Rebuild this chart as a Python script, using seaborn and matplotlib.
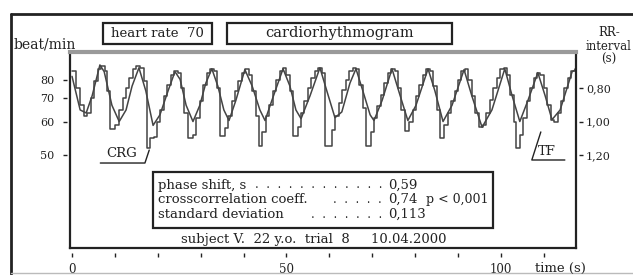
import matplotlib
matplotlib.use("Agg")
import matplotlib.pyplot as plt
from matplotlib.lines import Line2D
from matplotlib.patches import Rectangle
import seaborn as sns
import pandas as pd

# -----------------------------
# Data
# -----------------------------
# TF: fitted curve, time (s) and RR-interval (s)
tf_time = [0, 1.9, 3.3, 4.7, 6.5, 7.5, 9.3, 11.0, 12.6, 14.0,
           15.6, 17.2, 18.9, 20.5, 22.4, 24.0, 25.2, 26.6, 28.2, 29.8,
           31.2, 32.6, 34.0, 35.4, 36.6, 38.2, 40.3, 42.0, 43.8, 45.0,
           46.6, 49.2, 50.8, 52.2, 53.4, 55.5, 57.8, 59.4, 61.3, 62.9,
           64.8, 66.2, 67.8, 69.5, 70.4, 72.3, 74.6, 76.5, 78.3, 80.2,
           83.0, 84.6, 86.5, 88.6, 91.4, 93.2, 95.6, 97.9, 100.9, 102.6,
           104.4, 106.3, 108.6, 110.3, 111.9, 113.8, 115.2, 116.6, 117.5]
tf_rr = [0.731, 0.931, 0.949, 0.846, 0.663, 0.703, 0.903, 1.0, 0.931, 0.789,
         0.68, 0.817, 1.023, 0.96, 0.817, 0.703, 0.749, 0.903, 1.0, 0.903,
         0.771, 0.686, 0.789, 0.931, 0.994, 0.874, 0.691, 0.789, 0.931, 0.994,
         0.874, 0.686, 0.789, 0.931, 0.983, 0.846, 0.68, 0.817, 0.977, 0.943,
         0.771, 0.686, 0.817, 0.96, 0.994, 0.874, 0.686, 0.846, 0.994, 0.903,
         0.686, 0.817, 1.0, 0.903, 0.691, 0.846, 1.034, 0.931, 0.686, 0.846,
         1.0, 0.874, 0.709, 0.846, 0.989, 0.931, 0.817, 0.703, 0.691]

# CRG: cardiorhythmogram (step curve), time (s) and RR-interval (s)
crg_time = [0.0, 0.9, 1.8, 2.7, 3.6, 4.4, 5.2, 6.0, 6.8, 7.6,
            8.2, 8.9, 10.0, 10.9, 11.8, 12.6, 13.4, 14.2, 15.0, 15.9, 16.7,
            17.5, 18.2, 19.0, 19.8, 20.6, 21.4, 22.2, 23.0, 23.8, 24.6, 25.4, 26.2,
            27.0, 28.2, 29.0, 29.8, 30.6, 31.4, 32.2, 33.0, 33.8,
            34.6, 35.6, 36.4, 37.2, 38.0, 38.8, 39.6, 40.4, 41.2, 42.0, 42.8,
            43.6, 44.4, 45.2, 46.0, 46.8, 47.6, 48.4, 49.2, 50.0, 50.8,
            51.6, 52.6, 53.4, 54.2, 55.0, 55.8, 56.6, 57.4, 58.2,
            59.0, 60.6, 61.4, 62.2, 63.0, 63.8, 64.6, 65.4, 66.2, 67.0, 67.8,
            68.6, 69.6, 70.4, 71.2, 72.0, 72.8, 73.6, 74.4, 75.2, 76.0, 76.8,
            77.6, 78.6, 79.4, 80.2, 81.0, 81.8, 82.6, 83.4, 84.2, 85.0,
            85.8, 86.8, 87.6, 88.4, 89.2, 90.0, 90.8, 91.6, 92.4, 93.2, 94.0,
            94.8, 95.8, 96.6, 97.4, 98.2, 99.0, 99.8, 100.6, 101.4, 102.2, 103.0,
            103.6, 104.4, 105.2, 106.0, 106.8, 107.6, 108.4, 109.2, 110.0, 110.8,
            111.6, 112.4, 113.2, 114.0, 114.8, 115.6, 116.4, 117.2, 117.5]
crg_rr = [0.70, 0.80, 0.90, 0.97, 0.95, 0.86, 0.76, 0.69, 0.67, 0.70,
          0.82, 1.046, 1.02, 0.93, 0.86, 0.80, 0.74, 0.69, 0.67, 0.68, 0.76,
          1.16, 1.10, 1.09, 1.00, 0.93, 0.85, 0.78, 0.72, 0.70, 0.71, 0.80, 0.95,
          1.10, 1.08, 0.98, 0.88, 0.78, 0.71, 0.69, 0.70, 0.80,
          1.086, 1.04, 0.97, 0.88, 0.82, 0.76, 0.71, 0.69, 0.72, 0.82, 0.97,
          1.143, 1.06, 0.97, 0.90, 0.82, 0.75, 0.70, 0.68, 0.72, 0.82,
          1.086, 1.03, 0.95, 0.88, 0.80, 0.74, 0.70, 0.68, 0.71,
          1.143, 1.05, 0.97, 0.89, 0.81, 0.75, 0.70, 0.68, 0.69, 0.78, 0.92,
          1.143, 1.06, 0.98, 0.91, 0.84, 0.77, 0.71, 0.69, 0.70, 0.80, 0.93,
          1.057, 1.00, 0.93, 0.85, 0.78, 0.72, 0.69, 0.70, 0.79, 0.93,
          1.10, 1.02, 0.95, 0.88, 0.82, 0.75, 0.70, 0.69, 0.75, 0.85, 0.95,
          1.03, 1.02, 0.95, 0.87, 0.80, 0.74, 0.69, 0.68, 0.72, 0.84, 1.00,
          1.16, 1.08, 0.98, 0.88, 0.80, 0.74, 0.71, 0.72, 0.80, 0.90,
          0.99, 1.00, 0.95, 0.88, 0.80, 0.74, 0.70, 0.69, 0.69]

hr_ticks = [80, 70, 60, 50]                 # left axis, beat/min
rr_ticks = [0.80, 1.00, 1.20]               # right axis, s
rr_labels = ["0,80", "1,00", "1,20"]
time_major = [0, 50, 100]
time_minor = [10, 20, 30, 40, 60, 70, 80, 90, 110]

stats_names = ["phase shift, s", "crosscorrelation coeff.", "standard deviation"]
stats_dots = [12, 5, 7]
stats_values = ["0,59", "0,74", "0,113"]
heart_rate = 70
subject_line = "subject V.  22 y.o.  trial  8     10.04.2000"

tf = pd.DataFrame({"time": tf_time, "rr": tf_rr})
crg = pd.DataFrame({"time": crg_time, "rr": crg_rr})

# -----------------------------
# Style
# -----------------------------
sns.set_theme(style="white")
plt.rcParams["font.family"] = ["DejaVu Serif"]
plt.rcParams["font.size"] = 8
ink = "#222222"

W, H = 633, 275
fig = plt.figure(figsize=(W / 100, H / 100), dpi=100)


def fx(px):
    return px / W


def fy(py):
    return 1 - py / H


ax = fig.add_axes([fx(70), fy(248), fx(576) - fx(70), fy(52) - fy(248)])

sns.lineplot(data=tf, x="time", y="rr", ax=ax, color="#444444", lw=1.1,
             sort=False, estimator=None)
sns.lineplot(data=crg, x="time", y="rr", ax=ax, color="#444444", lw=1.1,
             sort=False, estimator=None, drawstyle="steps-post")

ax.set_xlim(-0.47, 117.5)
ax.set_ylim(1.753, 0.586)
ax.set_xlabel("")
ax.set_ylabel("")
ax.set_xticks([])
ax.set_yticks([])

for s in ("left", "right", "bottom"):
    ax.spines[s].set_visible(True)
    ax.spines[s].set_color(ink)
    ax.spines[s].set_linewidth(1.6)
ax.spines["top"].set_color("#9a9a9a")
ax.spines["top"].set_linewidth(3)

# detached tick rows (ticks sit a few pixels off the frame)
sx = ax.secondary_xaxis(-0.026)
sx.set_xticks(time_major)
sx.set_xticklabels([str(t) for t in time_major])
sx.set_xticks(time_minor, minor=True)
sx.tick_params(axis="x", which="both", direction="out", length=3, width=1,
               pad=4, colors=ink, labelsize=8.5)

sl = ax.secondary_yaxis(-0.006)
sl.set_yticks([60 / h for h in hr_ticks])
sl.set_yticklabels([str(h) for h in hr_ticks])
sl.tick_params(axis="y", direction="out", length=3, width=1, pad=6,
               colors=ink, labelsize=8)

sr = ax.secondary_yaxis(1.006)
sr.set_yticks(rr_ticks)
sr.set_yticklabels(rr_labels)
sr.tick_params(axis="y", direction="out", length=3, width=1, pad=2,
               colors=ink, labelsize=8)

for sa in (sx, sl, sr):
    for sp in sa.spines.values():
        sp.set_visible(False)

# curve labels with leader lines
ax.plot([6.6, 17.0, 18.0], [1.247, 1.247, 1.17], color=ink, lw=1)
ax.text(8.0, 1.232, "CRG", fontsize=9.5, color=ink, va="bottom")
ax.plot([114.9, 107.2, 109.3], [1.229, 1.229, 1.062], color=ink, lw=1)
ax.text(108.5, 1.218, "TF", fontsize=9.5, color=ink, va="bottom")

# -----------------------------
# Frame, header boxes and notes
# -----------------------------
fig.add_artist(Line2D([fx(11), 1], [fy(14), fy(14)], color=ink, lw=2))
fig.add_artist(Line2D([fx(11), fx(11)], [fy(14), fy(274)], color=ink, lw=2))
fig.add_artist(Line2D([fx(11), 1], [fy(273), fy(273)], color="#bbbbbb", lw=1))

for x0, x1, label, size in [(103, 212, f"heart rate  {heart_rate}", 9.5),
                            (227, 452, "cardiorhythmogram", 10.5)]:
    fig.add_artist(Rectangle((fx(x0), fy(44)), fx(x1) - fx(x0), fy(23) - fy(44),
                             transform=fig.transFigure, fill=False,
                             edgecolor=ink, lw=1.6))
    fig.text(fx((x0 + x1) / 2), fy(33.5), label, ha="center", va="center",
             fontsize=size, color=ink)

fig.text(fx(14), fy(44), "beat/min", ha="left", va="center", fontsize=10,
         color=ink)
fig.text(fx(609), fy(46), "RR-\ninterval\n(s)", ha="center", va="center",
         fontsize=8.5, color=ink, linespacing=1.05)
fig.text(fx(535), fy(268), "time (s)", ha="left", va="center", fontsize=9.5,
         color=ink)

# statistics box
fig.add_artist(Rectangle((fx(153), fy(228)), fx(493) - fx(153), fy(172) - fy(228),
                         transform=fig.transFigure, fill=False, edgecolor=ink,
                         lw=1.6))
for i, (name, nd, val) in enumerate(zip(stats_names, stats_dots, stats_values)):
    yy = fy(185 + 14.5 * i)
    fig.text(fx(158), yy, name, ha="left", va="center", fontsize=9.5, color=ink)
    fig.text(fx(382), yy, "  ".join(["."] * nd), ha="right", va="center",
             fontsize=8.5, color=ink)
    fig.text(fx(388), yy, val, ha="left", va="center", fontsize=9.5, color=ink)
fig.text(fx(426), fy(199.5), "p < 0,001", ha="left", va="center", fontsize=9,
         color=ink)
fig.text(fx(314), fy(240), subject_line, ha="center", va="center",
         fontsize=9.5, color=ink)

fig.savefig("out.png", dpi=100)
plt.close(fig)
